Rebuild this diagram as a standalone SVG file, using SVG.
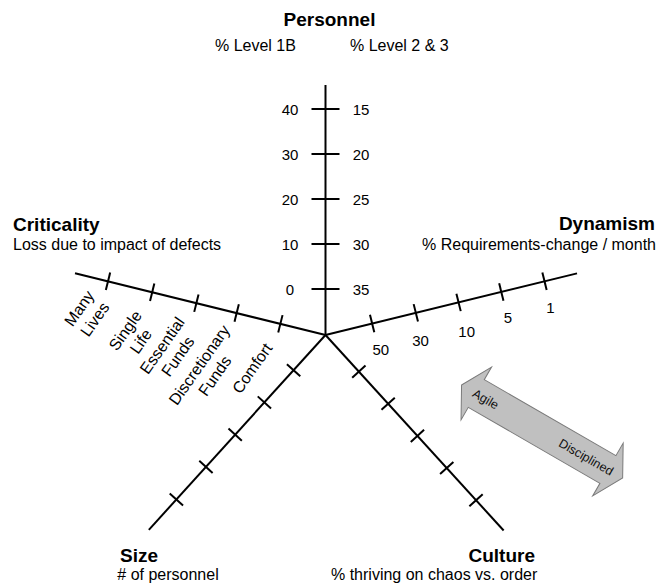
<svg xmlns="http://www.w3.org/2000/svg" width="657" height="585" viewBox="0 0 657 585">
  <style>
    .axis { stroke: #000; stroke-width: 2; fill: none; stroke-linecap: butt; }
    .title { font-family: "Liberation Sans", Arial, sans-serif; font-size: 19px; font-weight: bold; fill: #000; }
    .sub { font-family: "Liberation Sans", Arial, sans-serif; font-size: 16px; fill: #000; }
    .num { font-family: "Liberation Sans", Arial, sans-serif; font-size: 15px; fill: #000; text-anchor: middle; }
    .cat { font-family: "Liberation Sans", Arial, sans-serif; font-size: 16px; fill: #000; text-anchor: middle; }
    .band { fill: #c0c0c0; stroke: #7a7a7a; stroke-width: 1; }
    .bandtext { font-family: "Liberation Sans", Arial, sans-serif; font-size: 12.5px; fill: #111; text-anchor: middle; }
  </style>

  <!-- Axis lines and tick marks -->
  <g id="connectors">
    <!-- Personnel (vertical) -->
    <g id="axis-personnel" class="axis">
      <line x1="325.5" y1="85" x2="325.5" y2="335"/>
      <line x1="311.5" y1="109" x2="339.5" y2="109"/>
      <line x1="311.5" y1="154" x2="339.5" y2="154"/>
      <line x1="311.5" y1="199" x2="339.5" y2="199"/>
      <line x1="311.5" y1="244" x2="339.5" y2="244"/>
      <line x1="311.5" y1="289" x2="339.5" y2="289"/>
    </g>
    <!-- Criticality (upper left) -->
    <g id="axis-criticality" class="axis" transform="translate(325.5,335) rotate(193.86)">
      <line x1="0" y1="0" x2="258" y2="0"/>
      <line x1="46.5" y1="-9" x2="46.5" y2="9"/>
      <line x1="91.5" y1="-9" x2="91.5" y2="9"/>
      <line x1="133" y1="-9" x2="133" y2="9"/>
      <line x1="178.5" y1="-9" x2="178.5" y2="9"/>
      <line x1="224" y1="-9" x2="224" y2="9"/>
    </g>
    <!-- Dynamism (upper right) -->
    <g id="axis-dynamism" class="axis" transform="translate(325.5,335) rotate(-13.77)">
      <line x1="0" y1="0" x2="259" y2="0"/>
      <line x1="48" y1="-9" x2="48" y2="9"/>
      <line x1="93" y1="-9" x2="93" y2="9"/>
      <line x1="137" y1="-9" x2="137" y2="9"/>
      <line x1="181" y1="-9" x2="181" y2="9"/>
      <line x1="225.5" y1="-9" x2="225.5" y2="9"/>
    </g>
    <!-- Size (lower left) -->
    <g id="axis-size" class="axis" transform="translate(325.5,335) rotate(132.2)">
      <line x1="0" y1="0" x2="263" y2="0"/>
      <line x1="47.5" y1="-9" x2="47.5" y2="9"/>
      <line x1="91" y1="-9" x2="91" y2="9"/>
      <line x1="134.5" y1="-9" x2="134.5" y2="9"/>
      <line x1="178" y1="-9" x2="178" y2="9"/>
      <line x1="222" y1="-9" x2="222" y2="9"/>
    </g>
    <!-- Culture (lower right) -->
    <g id="axis-culture" class="axis" transform="translate(325.5,335) rotate(47.66)">
      <line x1="0" y1="0" x2="264.5" y2="0"/>
      <line x1="49.5" y1="-9" x2="49.5" y2="9"/>
      <line x1="93" y1="-9" x2="93" y2="9"/>
      <line x1="136.5" y1="-9" x2="136.5" y2="9"/>
      <line x1="180" y1="-9" x2="180" y2="9"/>
      <line x1="223.5" y1="-9" x2="223.5" y2="9"/>
    </g>
  </g>

  <!-- Personnel -->
  <g id="personnel">
    <text class="title" x="329.5" y="25.5" text-anchor="middle">Personnel</text>
    <text class="sub" x="215" y="50.5">% Level 1B</text>
    <text class="sub" x="350" y="50.5">% Level 2 &amp; 3</text>
    <text class="num" x="290" y="114.5">40</text>
    <text class="num" x="290" y="159.5">30</text>
    <text class="num" x="290" y="204.5">20</text>
    <text class="num" x="290" y="249.5">10</text>
    <text class="num" x="290" y="294.5">0</text>
    <text class="num" x="361" y="114.5">15</text>
    <text class="num" x="361" y="159.5">20</text>
    <text class="num" x="361" y="204.5">25</text>
    <text class="num" x="361" y="249.5">30</text>
    <text class="num" x="361" y="294.5">35</text>
  </g>

  <!-- Criticality -->
  <g id="criticality">
    <text class="title" x="13" y="230.5">Criticality</text>
    <text class="sub" x="13" y="249.5">Loss due to impact of defects</text>
    <g transform="translate(87,313.8) rotate(-55)">
      <text class="cat" x="0" y="-4">Many</text>
      <text class="cat" x="0" y="15">Lives</text>
    </g>
    <g transform="translate(133,335.9) rotate(-55)">
      <text class="cat" x="0" y="-4">Single</text>
      <text class="cat" x="0" y="15">Life</text>
    </g>
    <g transform="translate(170,351) rotate(-55)">
      <text class="cat" x="0" y="-4">Essential</text>
      <text class="cat" x="0" y="15">Funds</text>
    </g>
    <g transform="translate(207,370.4) rotate(-55)">
      <text class="cat" x="0" y="-4">Discretionary</text>
      <text class="cat" x="0" y="15">Funds</text>
    </g>
    <g transform="translate(252.2,368.3) rotate(-55)">
      <text class="cat" x="0" y="5.5">Comfort</text>
    </g>
  </g>

  <!-- Dynamism -->
  <g id="dynamism">
    <text class="title" x="655" y="229.5" text-anchor="end">Dynamism</text>
    <text class="sub" x="656" y="249.5" text-anchor="end">% Requirements-change / month</text>
    <text class="num" x="380.8" y="355">50</text>
    <text class="num" x="420.5" y="346">30</text>
    <text class="num" x="466.7" y="336.7">10</text>
    <text class="num" x="508" y="322.7">5</text>
    <text class="num" x="550.5" y="312.7">1</text>
  </g>

  <!-- Size -->
  <g id="size">
    <text class="title" x="120" y="561.7">Size</text>
    <text class="sub" x="117.3" y="580"># of personnel</text>
  </g>

  <!-- Culture -->
  <g id="culture">
    <text class="title" x="535" y="561.7" text-anchor="end">Culture</text>
    <text class="sub" x="331" y="580">% thriving on chaos vs. order</text>
  </g>

  <!-- Agile / Disciplined double arrow -->
  <g id="agile-disciplined" transform="translate(542.1,431.5) rotate(30)">
    <polygon class="band" points="-93,0 -76,-30.5 -76,-16 76,-16 76,-30.5 93,0 76,30.5 76,16 -76,16 -76,30.5"/>
    <text class="bandtext" x="-65" y="4.5">Agile</text>
    <text class="bandtext" x="51" y="4.5">Disciplined</text>
  </g>
</svg>
